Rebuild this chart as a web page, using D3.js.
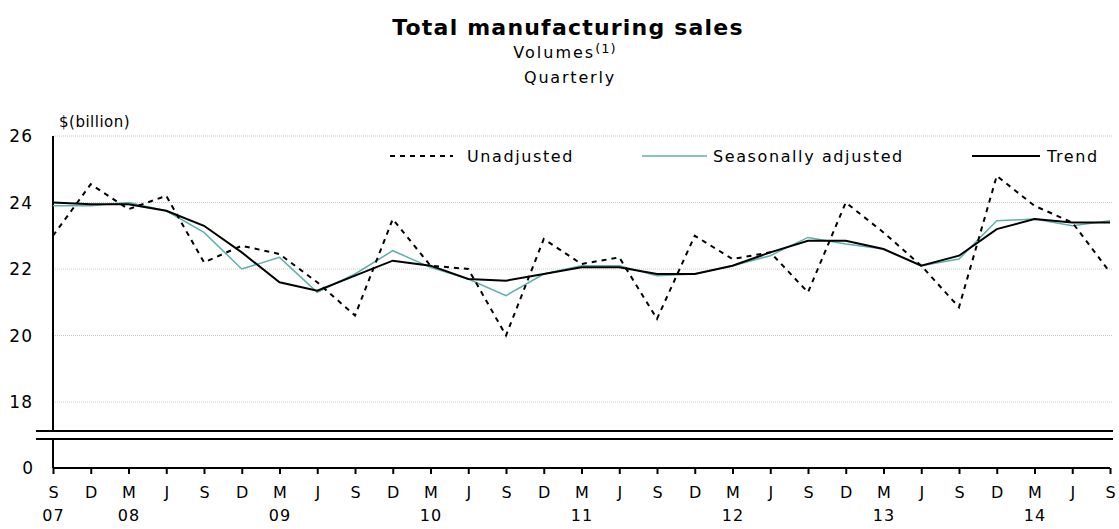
<!DOCTYPE html>
<html>
<head>
<meta charset="utf-8">
<script src="https://cdnjs.cloudflare.com/ajax/libs/d3/7.8.5/d3.min.js"></script>
<style>
  body { margin: 0; background: #fff; }
  text { font-family: "DejaVu Sans", Arial, sans-serif; fill: #000; }
</style>
</head>
<body>
<svg width="1119" height="529"></svg>
<script>
// quarters, Sept 2007 to Sept 2014
var months = ["S","D","M","J","S","D","M","J","S","D","M","J","S","D","M","J",
              "S","D","M","J","S","D","M","J","S","D","M","J","S"];
var years  = {0: "07", 2: "08", 6: "09", 10: "10", 14: "11", 18: "12", 22: "13", 26: "14"};

var unadjusted = [23.0, 24.55, 23.8, 24.2, 22.2, 22.7, 22.45, 21.6, 20.6, 23.5,
                  22.1, 22.0, 20.0, 22.9, 22.15, 22.35, 20.5, 23.0, 22.3, 22.5,
                  21.3, 24.0, 23.1, 22.1, 20.85, 24.8, 23.9, 23.4, 21.9];
var seasonal   = [23.9, 23.9, 24.0, 23.75, 23.1, 22.0, 22.35, 21.3, 21.85, 22.55,
                  22.05, 21.7, 21.2, 21.85, 22.1, 22.1, 21.8, 21.85, 22.1, 22.4,
                  22.95, 22.75, 22.6, 22.1, 22.3, 23.45, 23.5, 23.3, 23.45];
var trend      = [24.0, 23.95, 23.95, 23.75, 23.3, 22.5, 21.6, 21.35, 21.8, 22.25,
                  22.1, 21.7, 21.65, 21.85, 22.05, 22.05, 21.85, 21.85, 22.1, 22.5,
                  22.85, 22.85, 22.6, 22.1, 22.4, 23.2, 23.5, 23.4, 23.4];
var yTicks = [18, 20, 22, 24, 26];

var svg = d3.select("svg");
var left = 53, right = 1110;

var x = d3.scaleLinear().domain([0, months.length - 1]).range([left, right]);
var y = d3.scaleLinear().domain([18, 26]).range([402, 136]);
var yZero = 468, breakTop = 431, breakBot = 439;

// titles
svg.append("text").attr("x", 568).attr("y", 35).attr("text-anchor", "middle")
   .style("font-size", "22px").style("font-weight", "bold").style("letter-spacing", "1.2px")
   .text("Total manufacturing sales");
var vol = svg.append("text").attr("x", 565).attr("y", 58).attr("text-anchor", "middle")
   .style("font-size", "16px").style("letter-spacing", "2px");
vol.append("tspan").text("Volumes");
vol.append("tspan").attr("dy", -5).style("font-size", "13px").style("letter-spacing", "1px").text("(1)");
svg.append("text").attr("x", 570).attr("y", 83).attr("text-anchor", "middle")
   .style("font-size", "16px").style("letter-spacing", "1.8px").text("Quarterly");
svg.append("text").attr("x", 59).attr("y", 127).style("font-size", "15px")
   .style("letter-spacing", "0.5px").text("$(billion)");

// gridlines
svg.append("g").selectAll("line").data(yTicks).enter().append("line")
   .attr("x1", left).attr("x2", 1113)
   .attr("y1", function(d) { return y(d); }).attr("y2", function(d) { return y(d); })
   .attr("stroke", "#c8c8c0").attr("stroke-width", 1).attr("stroke-dasharray", "1,1");

// y axis labels
var yAxis = svg.append("g").attr("transform", "translate(" + left + ",0)")
   .call(d3.axisLeft(y).tickValues(yTicks).tickSize(0).tickPadding(20));
yAxis.select(".domain").remove();
yAxis.selectAll("text").style("font-size", "17px").style("letter-spacing", "1px")
   .attr("font-family", null).attr("dy", "0.35em");
svg.append("text").attr("x", 33).attr("y", yZero).attr("dy", "0.35em")
   .attr("text-anchor", "end").style("font-size", "17px").text("0");

// axis lines with break
svg.append("line").attr("x1", left).attr("x2", left).attr("y1", 136).attr("y2", breakTop)
   .attr("stroke", "#000").attr("stroke-width", 2);
svg.append("line").attr("x1", left).attr("x2", left).attr("y1", breakBot).attr("y2", yZero)
   .attr("stroke", "#000").attr("stroke-width", 2);
[breakTop, breakBot].forEach(function(b) {
  svg.append("line").attr("x1", 36).attr("x2", 1113).attr("y1", b).attr("y2", b)
     .attr("stroke", "#000").attr("stroke-width", 2);
});

// x axis
var xAxis = svg.append("g").attr("transform", "translate(0," + yZero + ")")
   .call(d3.axisBottom(x).tickValues(d3.range(months.length))
         .tickSize(6).tickPadding(13).tickFormat(function(i) { return months[i]; }));
xAxis.select(".domain").attr("stroke-width", 2).attr("d", "M" + left + ",0H" + right);
xAxis.selectAll(".tick line").attr("stroke-width", 2);
xAxis.selectAll("text").style("font-size", "16px").attr("font-family", null);
xAxis.selectAll(".tick").filter(function(i) { return years[i]; })
   .append("text").attr("y", 42).attr("dy", "0.71em").attr("fill", "#000")
   .style("font-size", "16px").style("letter-spacing", "1px")
   .text(function(i) { return years[i]; });

// series
var line = d3.line().x(function(d, i) { return x(i); }).y(function(d) { return y(d); });
svg.append("path").datum(seasonal).attr("d", line).attr("fill", "none")
   .attr("stroke", "#5fb0ac").attr("stroke-width", 1.5);
svg.append("path").datum(trend).attr("d", line).attr("fill", "none")
   .attr("stroke", "#000").attr("stroke-width", 2);
svg.append("path").datum(unadjusted).attr("d", line).attr("fill", "none")
   .attr("stroke", "#000").attr("stroke-width", 2).attr("stroke-dasharray", "5,5");

// legend
var legend = [
  {name: "Unadjusted", x1: 390, x2: 453, tx: 467, color: "#000", dash: "5,5", w: 2},
  {name: "Seasonally adjusted", x1: 642, x2: 707, tx: 713, color: "#5fb0ac", dash: null, w: 1.5},
  {name: "Trend", x1: 972, x2: 1040, tx: 1047, color: "#000", dash: null, w: 2}
];
var lg = svg.append("g").selectAll("g").data(legend).enter().append("g");
lg.append("line").attr("x1", function(d) { return d.x1; }).attr("x2", function(d) { return d.x2; })
  .attr("y1", 156).attr("y2", 156)
  .attr("stroke", function(d) { return d.color; }).attr("stroke-width", function(d) { return d.w; })
  .attr("stroke-dasharray", function(d) { return d.dash; });
lg.append("text").attr("x", function(d) { return d.tx; }).attr("y", 156).attr("dy", "0.35em")
  .style("font-size", "16px").style("letter-spacing", "1.6px").text(function(d) { return d.name; });
</script>
</body>
</html>
